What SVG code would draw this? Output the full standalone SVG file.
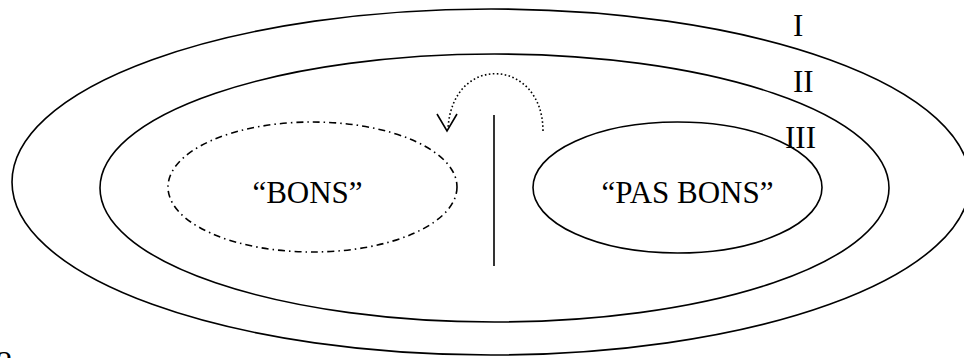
<svg xmlns="http://www.w3.org/2000/svg" width="964" height="358" viewBox="0 0 964 358">
<style>
.ring{fill:none;stroke:#000;stroke-width:1.6}
.dd{fill:none;stroke:#000;stroke-width:1.6;stroke-dasharray:7 4 1.5 4}
.dot{fill:none;stroke:#000;stroke-width:1.6;stroke-dasharray:1.6 2.4}
.t{font-family:"Liberation Serif","Times New Roman",serif;font-size:31px;fill:#000}
</style>
<rect width="964" height="358" fill="#fff"/>
<g id="ring-I"><ellipse class="ring" cx="491" cy="182" rx="479" ry="173"/></g>
<g id="ring-II"><ellipse class="ring" cx="494.5" cy="188" rx="394.5" ry="134"/></g>
<g id="bons"><ellipse class="dd" cx="312.5" cy="187" rx="144.5" ry="65"/><text class="t" x="307.5" y="203" text-anchor="middle">“BONS”</text></g>
<g id="pas-bons"><ellipse class="ring" cx="677.5" cy="187.5" rx="144.5" ry="65.5"/><text class="t" x="687.5" y="203" text-anchor="middle">“PAS BONS”</text></g>
<g id="divider"><line x1="494" y1="115" x2="494" y2="266" stroke="#000" stroke-width="1.6"/></g>
<g id="labels">
<text class="t" x="793" y="36">I</text>
<text class="t" x="793" y="92">II</text>
<text class="t" x="785" y="148">III</text>
<text class="t" x="-3" y="373">2</text>
</g>
<g id="connectors">
<path class="dot" d="M543 131 C543 58 452 52 448 129"/>
<polyline points="437,114 447,131 457,114" fill="none" stroke="#000" stroke-width="1.6"/>
</g>
</svg>
